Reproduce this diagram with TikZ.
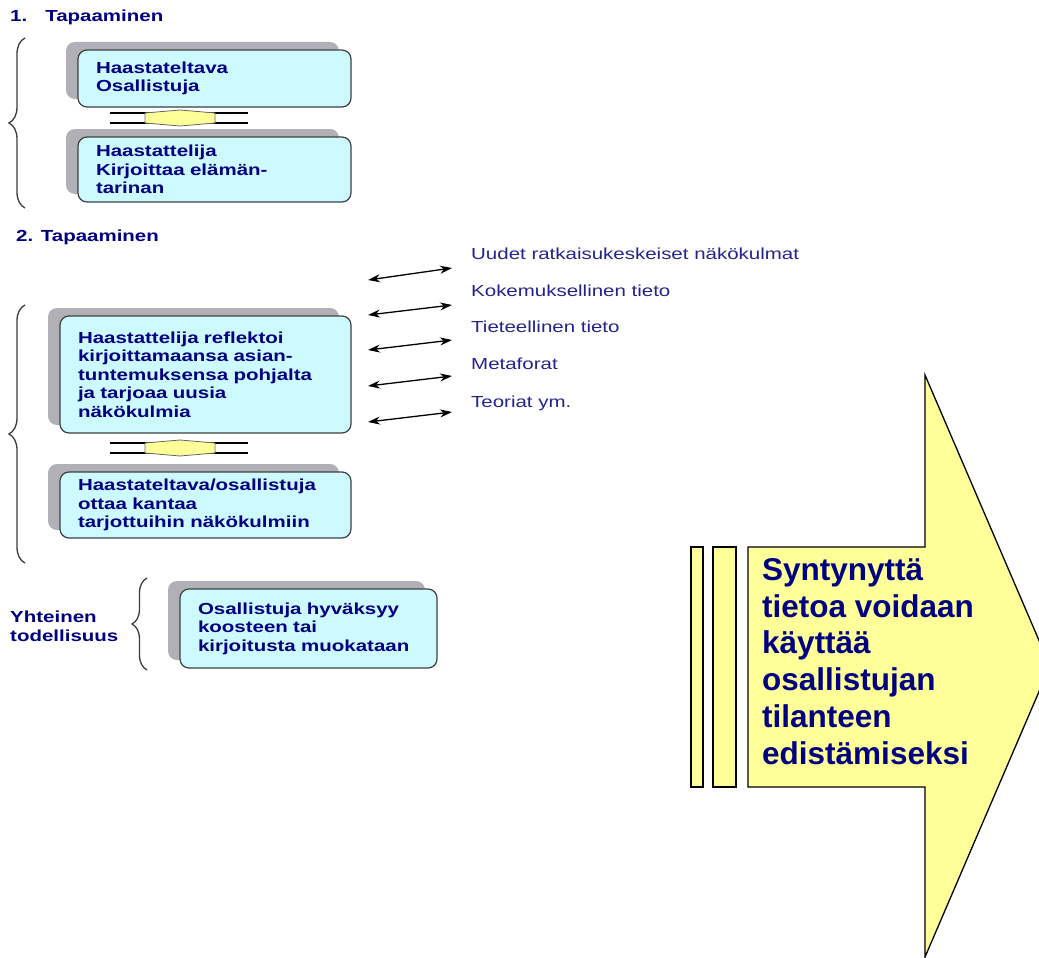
\documentclass[tikz,border=0pt]{standalone}
\usepackage{fontspec}
\newfontfamily\smallfont{Liberation Sans}[FakeStretch=1.28]
\newfontfamily\bigfont{Liberation Sans}
\usetikzlibrary{arrows.meta,shadows,decorations.pathreplacing}

\definecolor{navytext}{RGB}{0,0,128}
\definecolor{viewtext}{RGB}{35,35,140}
\definecolor{boxcyan}{RGB}{205,250,255}
\definecolor{shadowgray}{RGB}{176,176,182}
\definecolor{arrowyellow}{RGB}{255,255,153}
\definecolor{bracegray}{RGB}{60,60,60}

\tikzset{
  talk/.style={draw=black!75, line width=1.2pt, rounded corners=9pt, fill=boxcyan,
    text=navytext, font={\smallfont\bfseries\fontsize{16pt}{18.5pt}\selectfont},
    align=left, inner xsep=18pt, inner ysep=0pt,
    drop shadow={shadow xshift=-12pt, shadow yshift=8pt, fill=shadowgray, opacity=1}},
  heading/.style={text=navytext, font={\smallfont\bfseries\fontsize{16pt}{19pt}\selectfont}, inner sep=0pt},
  view/.style={text=viewtext, font={\smallfont\fontsize{16pt}{19pt}\selectfont}, inner sep=0pt},
  twoway/.style={{Stealth[length=12pt,width=8pt]}-{Stealth[length=12pt,width=8pt]}, line width=1.3pt},
  bracket/.style={decorate, decoration={brace, amplitude=16pt}, draw=bracegray, line width=1.3pt},
}

\begin{document}
\begin{tikzpicture}[x=1pt, y=-1pt]
  \useasboundingbox (0,0) rectangle (1039,958);

  % headings
  \node[heading, anchor=base west] (tap1) at (10,22) {1.\hspace{18pt}Tapaaminen};
  \node[heading, anchor=base west] (tap2) at (16,241) {2. Tapaaminen};
  \node[heading, anchor=west, align=left] (yhteinen) at (10,626) {Yhteinen\\todellisuus};

  % boxes
  \node[talk, minimum height=57pt, text width=237pt] (osallistuja) at (214.5,78.5) {Haastateltava\\Osallistuja};
  \node[talk, minimum height=65pt, text width=237pt] (haastattelija) at (214.5,169.5) {Haastattelija\\Kirjoittaa elämän-\\tarinan};
  \node[talk, minimum height=117pt, text width=255pt] (reflektointi) at (205.5,374.5) {Haastattelija reflektoi\\kirjoittamaansa asian-\\tuntemuksensa pohjalta\\ja tarjoaa uusia\\näkökulmia};
  \node[talk, minimum height=66pt, text width=255pt] (kannanotto) at (205.5,505) {Haastateltava/osallistuja\\ottaa kantaa\\tarjottuihin näkökulmiin};
  \node[talk, minimum height=79pt, text width=221pt] (hyvaksynta) at (308.5,628.5) {Osallistuja hyväksyy\\koosteen tai\\kirjoitusta muokataan};

  % links between the boxes
  \foreach \yy in {118,448} {
    \draw[line width=1.2pt] (110,\yy-5) -- (248,\yy-5) (110,\yy+5) -- (248,\yy+5);
    \draw[fill=arrowyellow, draw=black!60, line width=0.8pt] (145,\yy-5) -- (180,\yy-8) -- (215,\yy-5)
      -- (215,\yy+5) -- (180,\yy+8) -- (145,\yy+5) -- cycle;
  }

  % braces
  \draw[bracket] (25,208) -- (25,38);
  \draw[bracket] (25,563) -- (25,305);
  \draw[bracket, decoration={brace, amplitude=15pt}] (147,670) -- (147,578);

  % viewpoints
  \foreach \i/\ly/\ry/\ty/\txt in {1/280/268/259/Uudet ratkaisukeskeiset näkökulmat,
      2/315/305/296/Kokemuksellinen tieto, 3/350/340/332/Tieteellinen tieto,
      4/386/376/369/Metaforat, 5/422/412/407/Teoriat ym.} {
    \coordinate (in\i) at (368,\ly);
    \coordinate (out\i) at (452,\ry);
    \draw[twoway] (in\i) -- (out\i);
    \node[view, anchor=base west] (view\i) at (471,\ty) {\txt};
  }

  % big arrow
  \draw[fill=arrowyellow, line width=1.3pt] (691,547) rectangle (703,787);
  \draw[fill=arrowyellow, line width=1.3pt] (713,547) rectangle (736,787);
  \draw[fill=arrowyellow, line width=1.3pt] (748,547) -- (925,547) -- (925,375) -- (1050,666)
    -- (925,957) -- (925,787) -- (748,787) -- cycle;
  \node[anchor=north west, align=left, inner sep=0pt, text=navytext,
    font={\bigfont\bfseries\fontsize{31.5pt}{36.8pt}\selectfont}] (tulos) at (762,558)
    {Syntynyttä\\tietoa voidaan\\käyttää\\osallistujan\\tilanteen\\edistämiseksi};
\end{tikzpicture}
\end{document}
